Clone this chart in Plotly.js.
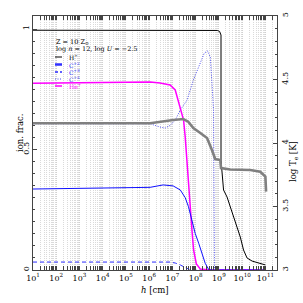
<!DOCTYPE html>
<html><head><meta charset="utf-8">
<script src="https://cdn.plot.ly/plotly-3.0.1.min.js"></script>
<style>html,body{margin:0;padding:0;background:#fff}#c{width:303px;height:303px}</style>
</head><body><div id="c"></div>
<script>
// log10(h [cm]) and values
const hH = [1.0, 8.0, 8.93, 9.03, 9.09, 9.09, 9.13, 9.20, 9.35, 9.49, 9.63, 9.78, 9.92, 10.06, 10.21, 10.43, 10.78, 11.0];
const fH = [0.995, 0.995, 0.994, 0.99, 0.975, 0.456, 0.394, 0.332, 0.303, 0.261, 0.220, 0.178, 0.137, 0.083, 0.050, 0.037, 0.029, 0.021];

const hC2 = [1.0, 6.04, 6.6, 7.03, 7.34, 7.47, 7.55, 7.69, 7.84, 7.98, 8.13, 8.27, 8.41, 8.56, 8.7, 11.0];
const fC2 = [0.336, 0.343, 0.353, 0.349, 0.332, 0.310, 0.300, 0.263, 0.207, 0.152, 0.111, 0.069, 0.028, 0.002, 0.0, 0.0];

const hC3 = [1.0, 6.9, 7.12, 7.34, 7.55, 7.77, 8.0, 11.0];
const fC3 = [0.033, 0.033, 0.029, 0.021, 0.010, 0.001, 0.0, 0.0];

const hC4 = [1.0, 6.04, 6.47, 6.69, 6.9, 7.12, 7.34, 7.63, 7.9, 8.2, 8.37, 8.51, 8.63, 8.70, 8.75, 8.77, 8.79, 8.81, 8.85, 11.0];
const fC4 = [0.607, 0.607, 0.593, 0.589, 0.600, 0.622, 0.664, 0.705, 0.788, 0.859, 0.900, 0.909, 0.884, 0.776, 0.705, 0.664, 0.29, 0.008, 0.0, 0.0];

const hHe = [1.0, 6.04, 6.47, 6.9, 7.12, 7.25, 7.38, 7.48, 7.55, 7.62, 7.68, 7.77, 7.84, 7.91, 8.03, 8.2, 8.63, 11.0];
const fHe = [0.775, 0.780, 0.776, 0.768, 0.747, 0.705, 0.664, 0.622, 0.552, 0.456, 0.353, 0.249, 0.166, 0.083, 0.025, 0.004, 0.0, 0.0];

const hT = [1.0, 6.04, 7.03, 7.47, 7.68, 7.90, 8.20, 8.49, 8.70, 8.84, 9.06, 9.09, 9.49, 10.35, 10.78, 11.0, 11.03];
const logT = [4.155, 4.155, 4.181, 4.189, 4.168, 4.118, 4.079, 4.039, 3.945, 3.874, 3.866, 3.803, 3.791, 3.787, 3.774, 3.735, 3.617];

const xTickExp = [1,2,3,4,5,6,7,8,9,10,11];
const yTicks = [0, 0.5, 1];
const yTickText = ['0', '0.5', '1'];
const y2Ticks = [3, 3.5, 4, 4.5, 5];
const y2TickText = ['3', '3.5', '4', '4.5', '5'];

const legendNames = ['H<sup>+</sup>', 'C<sup>+2</sup>', 'C<sup>+3</sup>', 'C<sup>+4</sup>', 'He<sup>+</sup>'];

const P = v => v.map(e => Math.pow(10, e));
const FONT = 'DejaVu Serif, Liberation Serif, serif';

const traces = [
  {x: P(hT), y: logT, yaxis: 'y2', mode: 'lines', line: {color: 'rgb(128,128,128)', width: 2.6}},
  {x: P(hH), y: fH, mode: 'lines', line: {color: '#000', width: 1}},
  {x: P(hC3), y: fC3, mode: 'lines', line: {color: '#2a2aff', width: 1, dash: '4px,3px'}},
  {x: P(hC4), y: fC4, mode: 'lines', line: {color: '#4a4aee', width: 1, dash: '1px,1.5px'}},
  {x: P(hHe), y: fHe, mode: 'lines', line: {color: '#ff00ff', width: 1.5}},
  {x: P(hC2), y: fC2, mode: 'lines', line: {color: '#1010ff', width: 1}},
];

const L = 33, R = 277, T = 16, B = 270;
const px = x => (x - L) / (R - L);
const py = y => (B - y) / (B - T);

const legColors = ['#000', '#3030ff', '#2a2aff', '#4a4aee', '#ff00ff'];
const legDash = ['solid', 'solid', '3px,2px', '1px,1.5px', 'solid'];
const legWidth = [1, 2.5, 1.5, 1.2, 1.5];
const legY = [57, 64.5, 72, 79, 86];

const base = {xref: 'paper', yref: 'paper', showarrow: false};
const annotations = [
  {text: 'Z = 10 Z<sub>⊙</sub>', x: px(54), y: py(42)},
  {text: 'log <i>n</i> = 12, log <i>U</i> = −2.5', x: px(54), y: py(49)},
].map(a => Object.assign(a, base, {xanchor: 'left', yanchor: 'middle', font: {family: FONT, size: 6.5, color: '#000'}}));

legendNames.forEach((n, i) => annotations.push(Object.assign({
  text: n, x: px(67), y: py(legY[i]), xanchor: 'left', yanchor: 'middle',
  font: {family: FONT, size: 6, color: legColors[i]}
}, base)));
annotations.push(Object.assign({text: 'ion. frac.', x: px(20), y: py(133), xanchor: 'center', yanchor: 'middle', textangle: -90, font: {family: FONT, size: 8.5, color: '#000'}}, base));
annotations.push(Object.assign({text: 'log T<sub>e</sub> [K]', x: px(293), y: py(162), xanchor: 'center', yanchor: 'middle', textangle: -90, font: {family: FONT, size: 8.5, color: '#000'}}, base));
annotations.push(Object.assign({text: '<i>h</i> [cm]', x: px(155), y: py(290), xanchor: 'center', yanchor: 'middle', font: {family: FONT, size: 8.5, color: '#000'}}, base));

const shapes = legendNames.map((n, i) => ({
  type: 'line', xref: 'paper', yref: 'paper', x0: px(55), x1: px(62), y0: py(legY[i]), y1: py(legY[i]),
  line: {color: legColors[i], width: legWidth[i], dash: legDash[i]}
}));

const layout = {
  width: 303, height: 303,
  margin: {l: L, r: 303 - R, t: T, b: 303 - B, pad: 0},
  paper_bgcolor: '#fff', plot_bgcolor: '#fff',
  showlegend: false,
  font: {family: FONT, size: 8, color: '#000'},
  xaxis: {
    type: 'log', range: [1, 11.5],
    tickvals: P(xTickExp), ticktext: xTickExp.map(e => '10<sup>' + e + '</sup>'),
    ticks: 'inside', ticklen: 4, tickcolor: '#444', tickfont: {size: 8},
    showline: true, linecolor: '#444', linewidth: 1, mirror: 'allticks',
    showgrid: true, gridcolor: '#d0d0d0', griddash: '1px,1px', gridwidth: 1,
    minor: {dtick: 'D1', ticks: 'inside', ticklen: 2, tickcolor: '#444', showgrid: true, gridcolor: '#dadada', griddash: '1px,1px', gridwidth: 1},
    zeroline: false, fixedrange: true
  },
  yaxis: {
    range: [0, 1.054], tickvals: yTicks, ticktext: yTickText, tickangle: -90,
    ticks: 'inside', ticklen: 4, tickcolor: '#444', tickfont: {size: 8},
    showline: true, linecolor: '#444', linewidth: 1,
    showgrid: false, zeroline: false,
    minor: {dtick: 0.05, ticks: 'inside', ticklen: 2, tickcolor: '#444', showgrid: false}
  },
  yaxis2: {
    range: [3, 5], overlaying: 'y', side: 'right', tickvals: y2Ticks, ticktext: y2TickText, tickangle: -90,
    ticks: 'inside', ticklen: 4, tickcolor: '#444', tickfont: {size: 8},
    showline: true, linecolor: '#444', linewidth: 1,
    showgrid: false, zeroline: false,
    minor: {dtick: 0.1, ticks: 'inside', ticklen: 2, tickcolor: '#444', showgrid: false}
  },
  annotations: annotations,
  shapes: shapes
};

Plotly.newPlot('c', traces, layout, {staticPlot: true, displayModeBar: false});
</script>
</body></html>
